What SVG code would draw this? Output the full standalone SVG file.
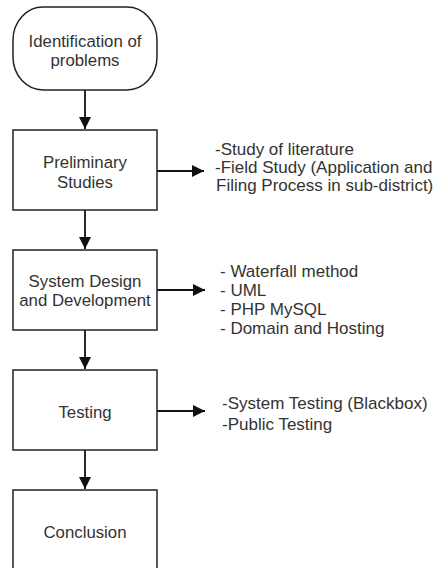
<svg xmlns="http://www.w3.org/2000/svg" width="439" height="568" viewBox="0 0 439 568">
<defs>
<style>
.box{fill:#fff;stroke:#222;stroke-width:1.5}
.t{font-family:"Liberation Sans",Arial,sans-serif;font-size:16.8px;fill:#333}
.n{font-size:17px}
.c{text-anchor:middle}
.ln{stroke:#111;stroke-width:1.8;fill:none}
</style>
<marker id="ah" markerWidth="12" markerHeight="12" refX="12" refY="6" orient="auto" markerUnits="userSpaceOnUse">
<path d="M0,0 L12,6 L0,12 Z" fill="#111"/>
</marker>
</defs>
<rect width="439" height="568" fill="#fff"/>
<g id="connectors">
<line class="ln" x1="85" y1="90" x2="85" y2="129" marker-end="url(#ah)"/>
<line class="ln" x1="85" y1="210" x2="85" y2="249" marker-end="url(#ah)"/>
<line class="ln" x1="85" y1="330" x2="85" y2="369" marker-end="url(#ah)"/>
<line class="ln" x1="85" y1="450" x2="85" y2="489" marker-end="url(#ah)"/>
<line class="ln" x1="157" y1="171" x2="204" y2="171" marker-end="url(#ah)"/>
<line class="ln" x1="157" y1="290" x2="205" y2="290" marker-end="url(#ah)"/>
<line class="ln" x1="157" y1="411" x2="205" y2="411" marker-end="url(#ah)"/>
</g>
<g id="identification">
<rect class="box" x="13" y="7" width="144" height="83" rx="30" ry="33"/>
<text class="t c" x="85" y="47">Identification of</text>
<text class="t c" x="85" y="66">problems</text>
</g>
<g id="preliminary">
<rect class="box" x="13" y="130" width="144" height="80"/>
<text class="t c" x="85" y="168">Preliminary</text>
<text class="t c" x="85" y="188">Studies</text>
</g>
<g id="preliminary-notes">
<text class="t n" x="215" y="155">-Study of literature</text>
<text class="t n" x="215" y="173">-Field Study (Application and</text>
<text class="t n" x="216" y="191">Filing Process in sub-district)</text>
</g>
<g id="design">
<rect class="box" x="13" y="250" width="144" height="80"/>
<text class="t c" x="85" y="287">System Design</text>
<text class="t c" x="85" y="306">and Development</text>
</g>
<g id="design-notes">
<text class="t n" x="220" y="277">- Waterfall method</text>
<text class="t n" x="220" y="296">- UML</text>
<text class="t n" x="220" y="315">- PHP MySQL</text>
<text class="t n" x="220" y="334">- Domain and Hosting</text>
</g>
<g id="testing">
<rect class="box" x="13" y="370" width="144" height="80"/>
<text class="t c" x="85" y="418">Testing</text>
</g>
<g id="testing-notes">
<text class="t n" x="222" y="409">-System Testing (Blackbox)</text>
<text class="t n" x="222" y="430">-Public Testing</text>
</g>
<g id="conclusion">
<rect class="box" x="13" y="490" width="144" height="84"/>
<text class="t c" x="85" y="538">Conclusion</text>
</g>
</svg>
